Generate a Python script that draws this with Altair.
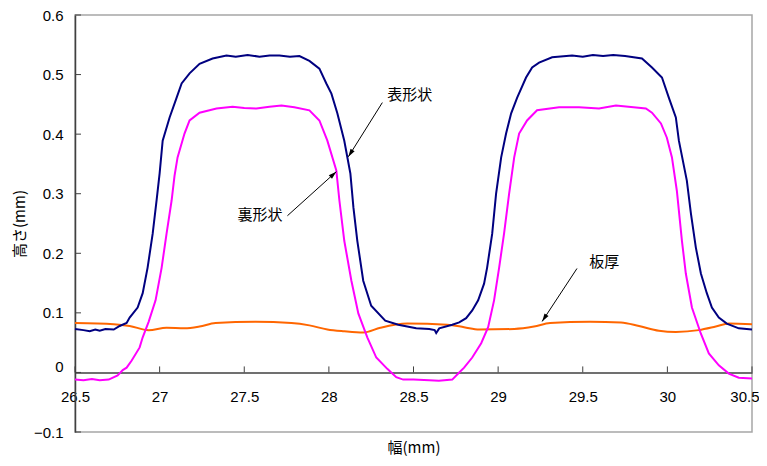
import math
import altair as alt
import pandas as pd

# ---- data ----
# 表形状 (top-surface profile, navy)
top_x = [26.50, 26.55, 26.587, 26.62, 26.646, 26.68, 26.729, 26.764, 26.805, 26.823,
         26.870, 26.900, 26.929, 26.959, 26.982, 27.000, 27.018, 27.059, 27.100, 27.130,
         27.177, 27.236, 27.313, 27.395, 27.45, 27.52, 27.590, 27.65, 27.708, 27.77,
         27.826, 27.885, 27.944, 27.985, 28.015, 28.050, 28.091, 28.127, 28.145, 28.168,
         28.203, 28.250, 28.333, 28.410, 28.516, 28.593, 28.625, 28.634, 28.652, 28.729,
         28.770, 28.811, 28.847, 28.882, 28.917, 28.935, 28.965, 28.988, 29.018, 29.047,
         29.077, 29.112, 29.165, 29.201, 29.242, 29.319, 29.437, 29.50, 29.56, 29.62,
         29.68, 29.75, 29.850, 29.909, 29.968, 30.009, 30.050, 30.068, 30.115, 30.139,
         30.168, 30.198, 30.233, 30.263, 30.304, 30.351, 30.422, 30.50]
top_y = [0.073, 0.071, 0.069, 0.072, 0.070, 0.073, 0.072, 0.078, 0.083, 0.092,
         0.109, 0.133, 0.176, 0.233, 0.289, 0.334, 0.389, 0.428, 0.461, 0.485,
         0.502, 0.518, 0.527, 0.532, 0.530, 0.533, 0.530, 0.532, 0.532, 0.530,
         0.531, 0.523, 0.510, 0.485, 0.468, 0.435, 0.389, 0.334, 0.277, 0.221,
         0.154, 0.112, 0.087, 0.080, 0.074, 0.073, 0.071, 0.066, 0.074, 0.080,
         0.084, 0.091, 0.104, 0.121, 0.149, 0.176, 0.233, 0.300, 0.361, 0.401,
         0.435, 0.461, 0.495, 0.512, 0.520, 0.529, 0.532, 0.530, 0.533, 0.531,
         0.533, 0.531, 0.527, 0.512, 0.495, 0.461, 0.428, 0.389, 0.322, 0.267,
         0.210, 0.166, 0.133, 0.109, 0.092, 0.082, 0.074, 0.072]

# 裏形状 (back-surface profile, magenta)
back_x = [26.50, 26.55, 26.60, 26.646, 26.699, 26.752, 26.782, 26.805, 26.835, 26.882,
          26.900, 26.935, 26.976, 27.012, 27.041, 27.071, 27.088, 27.106, 27.147, 27.177,
          27.236, 27.336, 27.431, 27.50, 27.572, 27.649, 27.720, 27.796, 27.885, 27.944,
          27.991, 28.044, 28.062, 28.091, 28.133, 28.174, 28.227, 28.280, 28.345, 28.398,
          28.439, 28.50, 28.593, 28.65, 28.729, 28.770, 28.799, 28.847, 28.900, 28.941,
          28.976, 29.006, 29.035, 29.065, 29.095, 29.124, 29.171, 29.230, 29.360, 29.478,
          29.596, 29.696, 29.800, 29.873, 29.909, 29.962, 29.997, 30.027, 30.056, 30.086,
          30.109, 30.145, 30.198, 30.245, 30.304, 30.363, 30.422, 30.50]
back_y = [-0.012, -0.013, -0.011, -0.013, -0.012, -0.005, 0.004, 0.008, 0.020, 0.042,
          0.059, 0.085, 0.121, 0.176, 0.233, 0.289, 0.330, 0.361, 0.401, 0.423,
          0.436, 0.443, 0.446, 0.444, 0.443, 0.446, 0.448, 0.445, 0.440, 0.423,
          0.389, 0.339, 0.289, 0.221, 0.154, 0.099, 0.059, 0.025, 0.006, -0.008,
          -0.012, -0.012, -0.013, -0.014, -0.012, 0.000, 0.008, 0.025, 0.049, 0.076,
          0.121, 0.176, 0.233, 0.300, 0.361, 0.401, 0.423, 0.440, 0.445, 0.445,
          0.443, 0.448, 0.445, 0.443, 0.436, 0.418, 0.394, 0.361, 0.305, 0.221,
          0.166, 0.109, 0.065, 0.032, 0.012, -0.002, -0.009, -0.010]

# 板厚 (thickness, orange)
thick_x = [26.50, 26.729, 26.823, 26.935, 27.041, 27.147, 27.236, 27.330, 27.566, 27.779,
           27.885, 27.991, 28.091, 28.203, 28.304, 28.463, 28.699, 28.799, 28.888, 29.095,
           29.212, 29.307, 29.543, 29.726, 29.832, 29.950, 30.050, 30.186, 30.286, 30.363,
           30.50]
thick_y = [0.083, 0.081, 0.078, 0.071, 0.075, 0.074, 0.077, 0.083, 0.085, 0.083,
           0.079, 0.072, 0.069, 0.067, 0.075, 0.082, 0.080, 0.076, 0.072, 0.073,
           0.077, 0.083, 0.085, 0.084, 0.078, 0.070, 0.068, 0.071, 0.077, 0.082,
           0.081]

x_ticks = [26.5, 27, 27.5, 28, 28.5, 29, 29.5, 30, 30.5]
y_ticks = [-0.1, 0, 0.1, 0.2, 0.3, 0.4, 0.5, 0.6]

label_text = ["表形状", "裏形状", "板厚"]
label_x = [28.345, 27.460, 29.538]
label_y = [0.465, 0.265, 0.185]

arrow_x1 = [28.316, 27.755, 29.466]
arrow_y1 = [0.453, 0.263, 0.1745]
arrow_x2 = [28.115, 28.044, 29.260]
arrow_y2 = [0.362, 0.337, 0.0856]

# ---- layout ----
W, H = 677, 417
XMIN, XMAX = 26.5, 30.5
YMIN, YMAX = -0.1, 0.6
PX_X = W / (XMAX - XMIN)
PX_Y = H / (YMAX - YMIN)
ZERO_FROM_BOTTOM = (0 - YMIN) * PX_Y

JP = "Noto Sans CJK JP"
LAT = "Liberation Sans"
AXIS_COL = "#404040"


def heading(x1, y1, x2, y2):
    dx = (x2 - x1) * PX_X
    dy = -(y2 - y1) * PX_Y
    return math.degrees(math.atan2(dx, -dy)) % 360


xs = alt.Scale(domain=[XMIN, XMAX], nice=False, zero=False)
ys = alt.Scale(domain=[YMIN, YMAX], nice=False, zero=False)

x_axis = alt.Axis(values=x_ticks, format="~g", ticks=False, tickSize=0, grid=False,
                  labelFlush=False,
                  labelAlign={"condition": {"test": "datum.value >= 30.5", "value": "right"},
                              "value": "center"},
                  labelOffset={"condition": {"test": "datum.value >= 30.5", "value": 7},
                               "value": 0},
                  domainColor=AXIS_COL, domainWidth=1.5, offset=-ZERO_FROM_BOTTOM,
                  labelFont=LAT, labelFontSize=15, labelColor="black", labelPadding=17,
                  title="幅(mm)", titleFont=JP, titleFontSize=15, titleFontWeight="normal",
                  titleColor="black", titleY=75, titleBaseline="middle")
y_axis = alt.Axis(values=y_ticks, format="~g", ticks=False, tickSize=0, grid=False,
                  labelFlush=False,
                  domainColor=AXIS_COL, domainWidth=1.5,
                  labelFont=LAT, labelFontSize=15, labelColor="black", labelPadding=12,
                  labelOffset={"condition": {"test": "datum.value == 0", "value": -6}, "value": 0},
                  title="高さ(mm)", titleFont=JP, titleFontSize=15, titleFontWeight="normal",
                  titleColor="black", titleX=-56, titleY=H / 2, titleAngle=270,
                  titleBaseline="middle", titleAlign="center")

top_df = pd.DataFrame({"x": top_x, "y": top_y})
back_df = pd.DataFrame({"x": back_x, "y": back_y})
thick_df = pd.DataFrame({"x": thick_x, "y": thick_y})

base_top = alt.Chart(top_df).mark_line(color="#000080", strokeWidth=2).encode(
    x=alt.X("x:Q", scale=xs, axis=x_axis), y=alt.Y("y:Q", scale=ys, axis=y_axis))
base_back = alt.Chart(back_df).mark_line(color="#FF00FF", strokeWidth=2).encode(
    x=alt.X("x:Q", scale=xs), y=alt.Y("y:Q", scale=ys))
base_thick = alt.Chart(thick_df).mark_line(color="#FF6600", strokeWidth=2,
                                           interpolate="monotone").encode(
    x=alt.X("x:Q", scale=xs), y=alt.Y("y:Q", scale=ys))

xtick = alt.Chart(pd.DataFrame({"t": x_ticks})).mark_rule(
    color=AXIS_COL, strokeWidth=1, y2Offset=-6).encode(
    x=alt.X("t:Q", scale=xs), y=alt.datum(0), y2=alt.datum(0))
ytick = alt.Chart(pd.DataFrame({"t": y_ticks})).mark_rule(
    color=AXIS_COL, strokeWidth=1, x2Offset=6).encode(
    y=alt.Y("t:Q", scale=ys), x=alt.datum(XMIN), x2=alt.datum(XMIN))

arrows_df = pd.DataFrame({"x1": arrow_x1, "y1": arrow_y1, "x2": arrow_x2, "y2": arrow_y2})
arrows_df["ang"] = [heading(a, b, c, d) for a, b, c, d in
                    zip(arrow_x1, arrow_y1, arrow_x2, arrow_y2)]

shafts = alt.Chart(arrows_df).mark_rule(color="black", strokeWidth=1).encode(
    x="x1:Q", y="y1:Q", x2="x2:Q", y2="y2:Q")
heads = alt.Chart(arrows_df).mark_point(
    shape="M0,0L0.6,2L-0.6,2Z", filled=True, size=64, color="black", opacity=1).encode(
    x="x2:Q", y="y2:Q", angle=alt.Angle("ang:Q", scale=None))

labels_df = pd.DataFrame({"t": label_text, "x": label_x, "y": label_y})
labels = alt.Chart(labels_df).mark_text(
    font=JP, fontSize=15, align="left", baseline="middle", color="black").encode(
    x="x:Q", y="y:Q", text="t:N")

chart = alt.layer(xtick, ytick, base_thick, base_back, base_top, shafts, heads, labels).properties(
    width=W, height=H,
    padding={"left": 67, "top": 7, "right": 7, "bottom": 26},
    autosize=alt.AutoSizeParams(type="none"),
    background="white",
).configure_view(stroke="#a6a6a6", strokeWidth=1.5)

chart.save("out.html", embed_options={"renderer": "svg", "actions": False})
